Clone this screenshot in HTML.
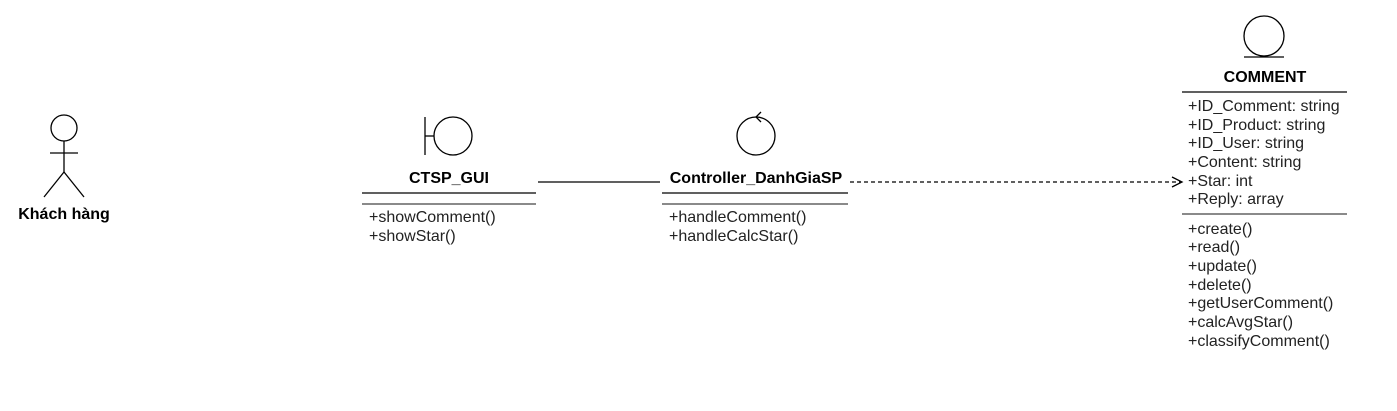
<!DOCTYPE html>
<html><head><meta charset="utf-8"><style>
html,body{margin:0;padding:0;background:#fff;}
svg text{font-family:"Liberation Sans",Helvetica,Arial,sans-serif;font-size:16px;fill:#222;}
.b{font-weight:bold;fill:#000;}
</style></head><body>
<svg width="1397" height="406" xmlns="http://www.w3.org/2000/svg">
<g stroke="#000" stroke-width="1.3" fill="none">
<circle cx="64" cy="128" r="13"/>
<line x1="64" y1="141" x2="64" y2="172"/>
<line x1="50" y1="153" x2="78" y2="153"/>
<line x1="64" y1="172" x2="44" y2="197"/>
<line x1="64" y1="172" x2="84" y2="197"/>
<line x1="425" y1="117" x2="425" y2="155"/>
<line x1="425" y1="136" x2="434" y2="136"/>
<circle cx="453" cy="136" r="19"/>
<line x1="362" y1="193" x2="536" y2="193"/>
<line x1="362" y1="204" x2="536" y2="204" stroke="#444"/>
<line x1="538" y1="182" x2="660" y2="182"/>
<circle cx="756" cy="136" r="19"/>
<polyline points="761,112 756,117 761,122"/>
<line x1="662" y1="193" x2="848" y2="193"/>
<line x1="662" y1="204" x2="848" y2="204" stroke="#444"/>
<line x1="850" y1="182" x2="1181" y2="182" stroke-dasharray="4,3"/>
<polyline points="1172,177 1182,182 1172,187"/>
<circle cx="1264" cy="36" r="20"/>
<line x1="1244" y1="57" x2="1284" y2="57"/>
<line x1="1182" y1="92" x2="1347" y2="92"/>
<line x1="1182" y1="214" x2="1347" y2="214" stroke="#444"/>
</g>
<text x="64" y="219" text-anchor="middle" class="b">Khách hàng</text>
<text x="449" y="183" text-anchor="middle" class="b">CTSP_GUI</text>
<text x="369" y="222">+showComment()</text>
<text x="369" y="241">+showStar()</text>
<text x="756" y="183" text-anchor="middle" class="b">Controller_DanhGiaSP</text>
<text x="669" y="222">+handleComment()</text>
<text x="669" y="241">+handleCalcStar()</text>
<text x="1265" y="82" text-anchor="middle" class="b">COMMENT</text>
<text x="1188" y="111">+ID_Comment: string</text>
<text x="1188" y="130">+ID_Product: string</text>
<text x="1188" y="148">+ID_User: string</text>
<text x="1188" y="167">+Content: string</text>
<text x="1188" y="186">+Star: int</text>
<text x="1188" y="204">+Reply: array</text>
<text x="1188" y="234">+create()</text>
<text x="1188" y="252">+read()</text>
<text x="1188" y="271">+update()</text>
<text x="1188" y="290">+delete()</text>
<text x="1188" y="308">+getUserComment()</text>
<text x="1188" y="327">+calcAvgStar()</text>
<text x="1188" y="346">+classifyComment()</text>
</svg>
</body></html>
